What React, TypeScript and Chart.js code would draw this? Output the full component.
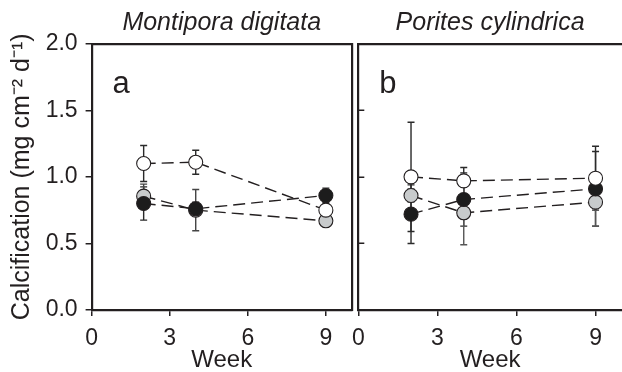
import React, { useEffect, useRef } from "react";
import { Chart, registerables } from "chart.js";

Chart.register(...registerables);

const FAMILY = "'Liberation Sans', Arial, Helvetica, sans-serif";
const INK = "#231f20";

const weeks = [2, 4, 9];
const xTicks = [0, 3, 6, 9];
const yTicks = [0, 0.5, 1.0, 1.5, 2.0];

// Montipora digitata (panel a)
const mdWhite = [1.10, 1.11, 0.75];
const mdWhiteErr = [0.135, 0.09, 0.03];
const mdBlack = [0.80, 0.76, 0.86];
const mdBlackErr = [0.125, 0.05, 0.055];
const mdGray = [0.855, 0.75, 0.67];
const mdGrayErr = [0.09, 0.155, 0.02];

// Porites cylindrica (panel b)
const pcWhite = [1.00, 0.97, 0.99];
const pcWhiteErr = [0.41, 0.10, 0.24];
const pcBlack = [0.72, 0.83, 0.91];
const pcBlackErr = [0.22, 0.20, 0.28];
const pcGray = [0.86, 0.73, 0.81];
const pcGrayErr = [0.05, 0.24, 0.18];

const FILLS = { white: "#ffffff", black: "#1c1c1c", gray: "#c8cbcc" };

function makeDataset(vals: number[], errs: number[], fill: string, errColor: string) {
  return {
    data: weeks.map((w, i) => ({ x: w, y: vals[i], err: errs[i] })),
    xAxisID: "x",
    yAxisID: "y",
    borderColor: INK,
    borderWidth: 1.4,
    borderDash: [12, 6],
    pointRadius: 7,
    pointBorderWidth: 1.1,
    pointBorderColor: INK,
    pointBackgroundColor: fill,
    backgroundColor: fill,
    tension: 0,
    fill: false,
    errColor,
  };
}

const errorBars = {
  id: "errorBars",
  beforeDatasetsDraw(chart: any) {
    const ctx = chart.ctx;
    const ys = chart.scales.y;
    chart.data.datasets.forEach((ds: any, i: number) => {
      const meta = chart.getDatasetMeta(i);
      meta.data.forEach((pt: any, j: number) => {
        const d = ds.data[j];
        const x = pt.x;
        const top = ys.getPixelForValue(d.y + d.err);
        const bot = ys.getPixelForValue(d.y - d.err);
        ctx.save();
        ctx.strokeStyle = ds.errColor;
        ctx.lineWidth = 1.4;
        ctx.beginPath();
        ctx.moveTo(x, top);
        ctx.lineTo(x, bot);
        ctx.moveTo(x - 3.5, top);
        ctx.lineTo(x + 3.5, top);
        ctx.moveTo(x - 3.5, bot);
        ctx.lineTo(x + 3.5, bot);
        ctx.stroke();
        ctx.restore();
      });
    });
  },
};

const panelLabel = {
  id: "panelLabel",
  afterDraw(chart: any, _args: any, opts: any) {
    const { ctx, chartArea } = chart;
    ctx.save();
    ctx.font = `31px ${FAMILY}`;
    ctx.fillStyle = INK;
    ctx.textBaseline = "alphabetic";
    ctx.textAlign = "left";
    ctx.fillText(opts.text, chartArea.left + 21, chartArea.top + 49);
    ctx.restore();
  },
};

const innerTicks = {
  id: "innerTicks",
  afterDraw(chart: any, _args: any, opts: any) {
    if (!opts.enabled) return;
    const { ctx, chartArea } = chart;
    const ys = chart.scales.y;
    ctx.save();
    ctx.strokeStyle = INK;
    ctx.lineWidth = 1.5;
    ctx.beginPath();
    yTicks.forEach((v) => {
      const y = Math.round(ys.getPixelForValue(v)) + 0.25;
      ctx.moveTo(chartArea.left, y);
      ctx.lineTo(chartArea.left + 6, y);
    });
    ctx.stroke();
    ctx.restore();
  },
};

function buildConfig(panel: "a" | "b") {
  const isA = panel === "a";
  const datasets = isA
    ? [
        makeDataset(mdWhite, mdWhiteErr, FILLS.white, "#2a2a2a"),
        makeDataset(mdBlack, mdBlackErr, FILLS.black, "#2a2a2a"),
        makeDataset(mdGray, mdGrayErr, FILLS.gray, "#444"),
      ]
    : [
        makeDataset(pcWhite, pcWhiteErr, FILLS.white, "#2a2a2a"),
        makeDataset(pcBlack, pcBlackErr, FILLS.black, "#2a2a2a"),
        makeDataset(pcGray, pcGrayErr, FILLS.gray, "#555"),
      ];

  const tickFont = { size: 23, family: FAMILY };
  const axisFont = { size: 24, family: FAMILY, lineHeight: 1 };
  const scales: any = {
    x: {
      type: "linear",
      axis: "x",
      position: "bottom",
      min: 0,
      max: 10,
      afterBuildTicks: (s: any) => {
        s.ticks = xTicks.map((v) => ({ value: v }));
      },
      afterFit: (s: any) => {
        s.height = 62;
      },
      ticks: {
        font: tickFont,
        color: INK,
        padding: 8.5,
        maxRotation: 0,
        autoSkip: false,
        callback: (v: any) => String(v),
      },
      grid: { drawOnChartArea: false, drawTicks: true, tickLength: 6, color: INK, lineWidth: 1.5 },
      border: { display: true, color: INK, width: 2.2 },
      title: { display: true, text: "Week", font: axisFont, color: INK, padding: { top: 0, bottom: 0 } },
    },
    xTop: {
      type: "linear",
      axis: "x",
      position: "top",
      min: 0,
      max: 10,
      ticks: { display: false },
      grid: { drawOnChartArea: false, drawTicks: false },
      border: { display: true, color: INK, width: 2.2 },
      afterFit: (s: any) => {
        s.height = 0;
      },
    },
    y: {
      type: "linear",
      axis: "y",
      position: "left",
      min: 0,
      max: 2,
      afterBuildTicks: (s: any) => {
        s.ticks = yTicks.map((v) => ({ value: v }));
      },
      afterFit: (s: any) => {
        s.width = isA ? 91.6 : 0;
      },
      ticks: {
        display: isA,
        font: tickFont,
        color: INK,
        padding: 8,
        callback: (v: any) => Number(v).toFixed(1),
      },
      grid: { drawOnChartArea: false, drawTicks: isA, tickLength: 6, color: INK, lineWidth: 1.5 },
      border: { display: true, color: INK, width: 2.2 },
      title: {
        display: isA,
        text: "Calcification (mg cm\u207B\u00B2 d\u207B\u00B9)",
        font: { size: 25, family: FAMILY },
        color: INK,
        padding: { top: 7, bottom: 0 },
      },
    },
  };
  if (isA) {
    scales.yRight = {
      type: "linear",
      axis: "y",
      position: "right",
      min: 0,
      max: 2,
      ticks: { display: false },
      grid: { drawOnChartArea: false, drawTicks: false },
      border: { display: true, color: INK, width: 2.2 },
      afterFit: (s: any) => {
        s.width = 0;
      },
    };
  }

  return {
    type: "line",
    data: { datasets },
    plugins: [errorBars, panelLabel, innerTicks],
    options: {
      animation: false,
      responsive: false,
      devicePixelRatio: 1,
      layout: {
        padding: isA ? { left: 0, right: 1.7, top: 0, bottom: 0 } : { left: 22.3, right: 5, top: 0, bottom: 0 },
      },
      scales,
      plugins: {
        legend: { display: false },
        tooltip: { enabled: false },
        title: {
          display: true,
          text: isA ? "Montipora digitata" : "Porites cylindrica",
          font: { size: 25, style: "italic", family: FAMILY, weight: "normal" },
          color: INK,
          padding: { top: 8, bottom: 5.7 },
          fullSize: false,
        },
        panelLabel: { text: panel },
        innerTicks: { enabled: !isA },
      },
    },
  } as any;
}

export default function App() {
  const leftRef = useRef<HTMLCanvasElement | null>(null);
  const rightRef = useRef<HTMLCanvasElement | null>(null);

  useEffect(() => {
    const a = new Chart(leftRef.current as HTMLCanvasElement, buildConfig("a"));
    const b = new Chart(rightRef.current as HTMLCanvasElement, buildConfig("b"));
    return () => {
      a.destroy();
      b.destroy();
    };
  }, []);

  return (
    <div
      style={{
        position: "fixed",
        left: 0,
        top: 0,
        width: 622,
        height: 372,
        overflow: "hidden",
        background: "#fff",
      }}
    >
      <canvas ref={leftRef} width={360} height={372} style={{ position: "absolute", left: 0, top: 0 }} />
      <canvas ref={rightRef} width={294} height={372} style={{ position: "absolute", left: 336, top: 0 }} />
    </div>
  );
}
